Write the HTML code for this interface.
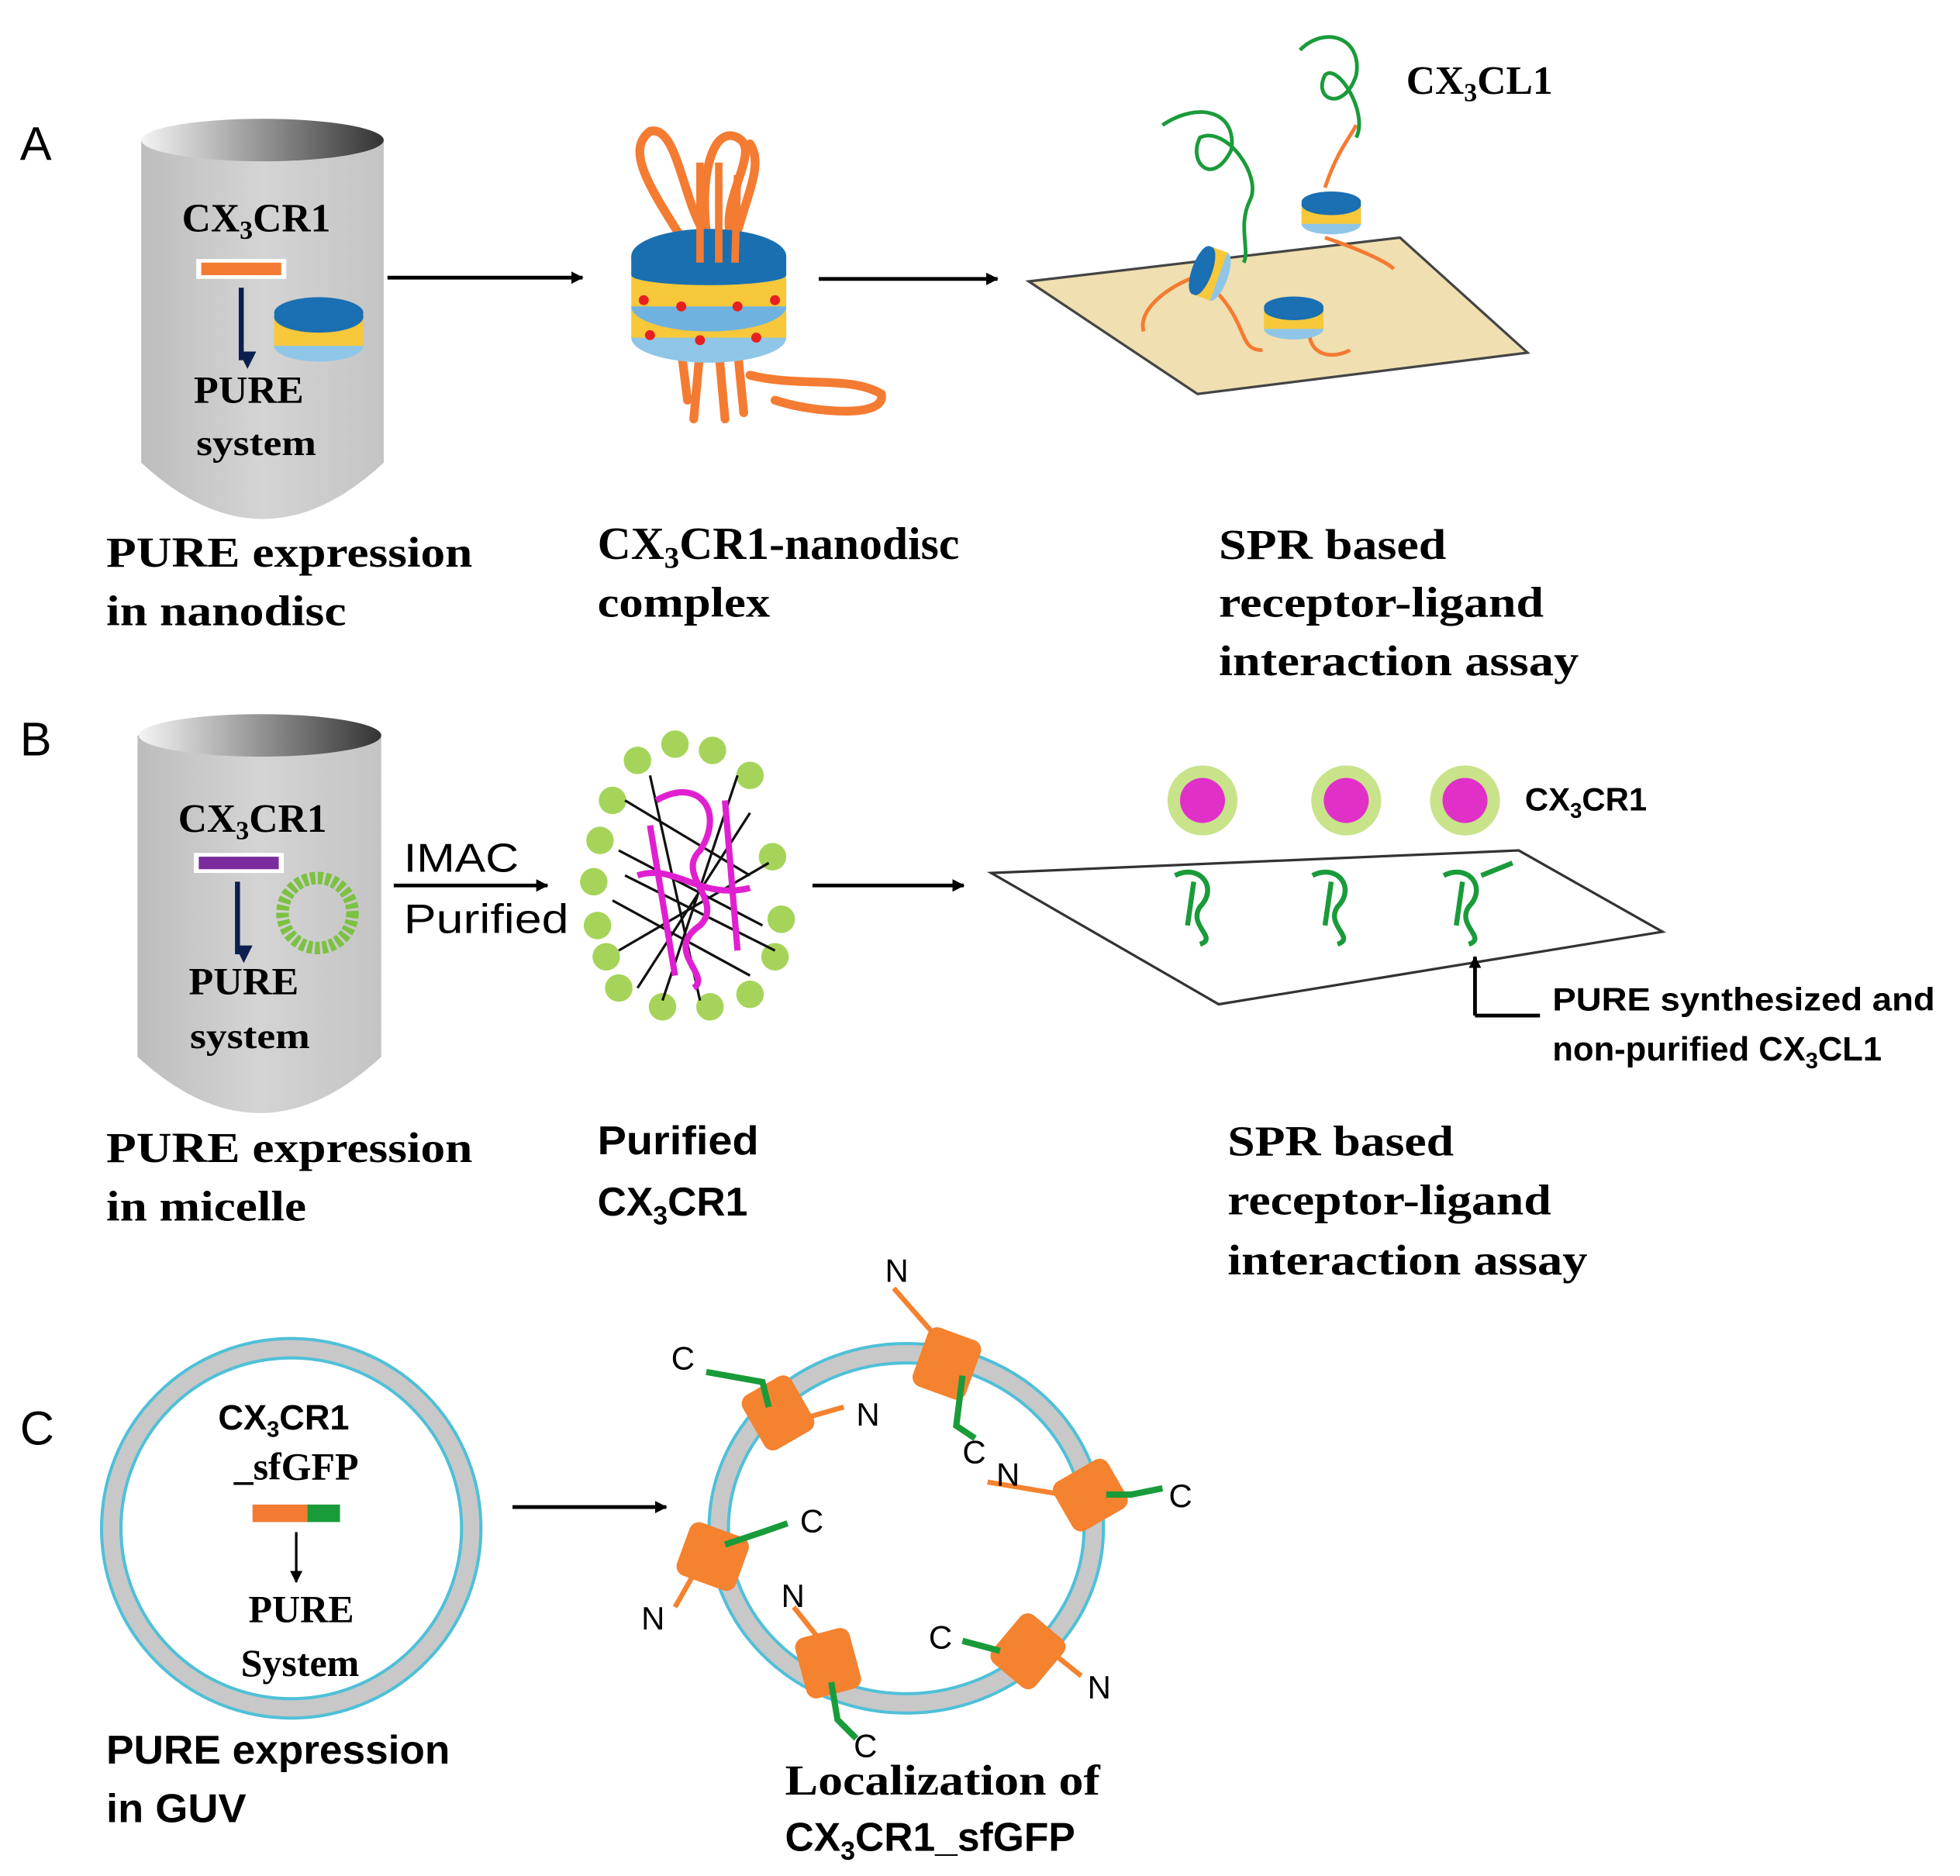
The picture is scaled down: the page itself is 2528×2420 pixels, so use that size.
<!DOCTYPE html>
<html><head><meta charset="utf-8"><style>
html,body{margin:0;padding:0;background:#fff}
svg{display:block}
.s{font-family:"Liberation Serif",serif;font-weight:bold}
.a{font-family:"Liberation Sans",sans-serif}
</style></head><body>
<svg width="2528" height="2420" viewBox="0 0 1568 1500" preserveAspectRatio="none" xmlns="http://www.w3.org/2000/svg">
<defs>
<linearGradient id="tube" x1="0" x2="1" y1="0" y2="0"><stop offset="0" stop-color="#bdbdbd"/><stop offset="0.5" stop-color="#d4d4d4"/><stop offset="1" stop-color="#c4c4c4"/></linearGradient>
<linearGradient id="top" x1="0" x2="1"><stop offset="0" stop-color="#f4f4f4"/><stop offset="1" stop-color="#333"/></linearGradient>
<marker id="ar" markerWidth="10" markerHeight="10" refX="9" refY="5" orient="auto" markerUnits="userSpaceOnUse"><path d="M0,0 L14,5 L0,10z" fill="#000" transform="scale(0.7,1)"/></marker>
<marker id="arn" markerWidth="14" markerHeight="14" refX="7" refY="12" orient="auto" markerUnits="userSpaceOnUse"><path d="M0,0 L14,0 L7,14z" fill="#0b1f4f" transform="rotate(-90 7 7)"/></marker>
<g id="disc">
<ellipse cx="0" cy="30" rx="34" ry="12" fill="#8fc6e8"/>
<rect x="-34" y="8" width="68" height="22" fill="#f6c83a"/>
<ellipse cx="0" cy="8" rx="34" ry="12" fill="#1a6fb0"/>
<ellipse cx="0" cy="5" rx="34" ry="12" fill="#1b6fb3"/>
</g>
</defs>

<!-- Panel A -->
<text x="16" y="128" class="a" font-size="38">A</text>
<path d="M113,112 L113,370 Q210,460 307,370 L307,112 Z" fill="url(#tube)"/>
<ellipse cx="210" cy="112" rx="97" ry="17" fill="url(#top)"/>
<text x="205" y="185" class="s" font-size="32" text-anchor="middle">CX<tspan font-size="21" dy="6">3</tspan><tspan dy="-6">CR1</tspan></text>
<rect x="157" y="207" width="72" height="16" fill="#fff"/><rect x="161" y="210" width="64" height="10" fill="#f47b32"/>
<line x1="193" y1="230" x2="193" y2="288" stroke="#0b1f4f" stroke-width="4" marker-end="url(#arn)"/>
<g transform="translate(255,245) scale(1.05)"><use href="#disc"/></g>
<text x="155" y="322" class="s" font-size="31" textLength="88" lengthAdjust="spacingAndGlyphs">PURE</text>
<text x="157" y="364" class="s" font-size="29" textLength="96" lengthAdjust="spacingAndGlyphs">system</text>
<line x1="310" y1="222" x2="466" y2="222" stroke="#000" stroke-width="3" marker-end="url(#ar)"/>
<!-- big nanodisc -->
<g stroke="#f47b32" stroke-width="7" fill="none" stroke-linecap="round">
<path d="M545,190 C520,150 500,120 520,105 C540,100 545,150 560,180"/>
<path d="M565,185 C560,140 570,100 590,110 C610,120 575,160 585,190"/>
<path d="M590,185 C600,150 610,130 600,115"/>
<path d="M560,280 L555,335 M575,280 L580,335 M590,280 L595,330 M545,280 L550,320"/>
<path d="M600,300 C640,310 680,300 705,315 C710,335 650,330 620,320"/>
</g>
<ellipse cx="567" cy="270" rx="62" ry="20" fill="#8fc6e8"/>
<rect x="505" y="245" width="124" height="25" fill="#f6c83a"/>
<ellipse cx="567" cy="245" rx="62" ry="20" fill="#6fb2e0"/>
<rect x="505" y="220" width="124" height="25" fill="#f6c83a"/>
<ellipse cx="567" cy="205" rx="62" ry="22" fill="#1a6fb0"/>
<rect x="505" y="205" width="124" height="15" fill="#1a6fb0"/>
<ellipse cx="567" cy="220" rx="62" ry="8" fill="#1a6fb0"/>
<g fill="#e62020"><circle cx="515" cy="240" r="4"/><circle cx="545" cy="245" r="4"/><circle cx="590" cy="245" r="4"/><circle cx="620" cy="240" r="4"/><circle cx="520" cy="268" r="4"/><circle cx="560" cy="272" r="4"/><circle cx="605" cy="270" r="4"/></g>
<g stroke="#f47b32" stroke-width="6"><line x1="560" y1="130" x2="560" y2="210"/><line x1="575" y1="130" x2="575" y2="210"/><line x1="590" y1="140" x2="588" y2="210"/></g>
<line x1="655" y1="223" x2="798" y2="223" stroke="#000" stroke-width="3" marker-end="url(#ar)"/>
<polygon points="823,225 1120,190 1222,282 958,315" fill="#f0dfb0" stroke="#444" stroke-width="2"/>
<g stroke="#f47b32" stroke-width="3" fill="none">
<path d="M960,220 C930,230 910,250 915,265 M970,230 C1000,260 990,280 1010,280 M1050,250 C1040,280 1060,290 1080,280 M1060,190 C1090,200 1110,210 1115,215 M1060,150 C1070,120 1080,110 1085,100"/>
</g>
<g transform="translate(958,215) rotate(-70) scale(0.6)"><use href="#disc"/></g>
<g transform="translate(1065,158) scale(0.7)"><use href="#disc"/></g>
<g transform="translate(1035,242) scale(0.7)"><use href="#disc"/></g>
<g stroke="#1a9b3a" stroke-width="3" fill="none">
<path d="M930,100 C960,80 990,90 985,120 C970,150 950,130 960,110 C980,100 1010,140 1000,160 C990,180 1000,200 995,210"/>
<path d="M1040,40 C1060,20 1090,30 1085,60 C1075,90 1050,80 1060,60 C1070,50 1095,90 1085,110"/>
</g>
<text x="1125" y="75" class="s" font-size="32">CX<tspan font-size="21" dy="6">3</tspan><tspan dy="-6">CL1</tspan></text>
<text x="85" y="453" class="s" font-size="34" textLength="293" lengthAdjust="spacingAndGlyphs">PURE expression</text>
<text x="85" y="500" class="s" font-size="34" textLength="192" lengthAdjust="spacingAndGlyphs">in nanodisc</text>
<text x="478" y="447" class="s" font-size="37">CX<tspan font-size="24" dy="7">3</tspan><tspan dy="-7">CR1-nanodisc</tspan></text>
<text x="478" y="493" class="s" font-size="34" textLength="138" lengthAdjust="spacingAndGlyphs">complex</text>
<text x="975" y="447" class="s" font-size="34" textLength="182" lengthAdjust="spacingAndGlyphs">SPR based</text>
<text x="975" y="493" class="s" font-size="34" textLength="260" lengthAdjust="spacingAndGlyphs">receptor-ligand</text>
<text x="975" y="540" class="s" font-size="34" textLength="288" lengthAdjust="spacingAndGlyphs">interaction assay</text>

<!-- Panel B -->
<text x="16" y="604" class="a" font-size="38">B</text>
<path d="M110,588 L110,845 Q208,935 305,845 L305,588 Z" fill="url(#tube)"/>
<ellipse cx="208" cy="588" rx="97" ry="17" fill="url(#top)"/>
<text x="202" y="665" class="s" font-size="32" text-anchor="middle">CX<tspan font-size="21" dy="6">3</tspan><tspan dy="-6">CR1</tspan></text>
<rect x="155" y="682" width="72" height="16" fill="#fff"/><rect x="159" y="685" width="64" height="10" fill="#7b2c9c"/>
<line x1="190" y1="705" x2="190" y2="763" stroke="#0b1f4f" stroke-width="4" marker-end="url(#arn)"/>
<circle cx="254" cy="730" r="28" fill="none" stroke="#7cc142" stroke-width="10" stroke-dasharray="4 2"/>
<text x="151" y="795" class="s" font-size="31" textLength="88" lengthAdjust="spacingAndGlyphs">PURE</text>
<text x="152" y="838" class="s" font-size="29" textLength="96" lengthAdjust="spacingAndGlyphs">system</text>
<text x="323" y="697" class="a" font-size="32" textLength="92" lengthAdjust="spacingAndGlyphs">IMAC</text>
<line x1="315" y1="708" x2="438" y2="708" stroke="#000" stroke-width="3" marker-end="url(#ar)"/>
<text x="323" y="746" class="a" font-size="33" textLength="132" lengthAdjust="spacingAndGlyphs">Purified</text>
<!-- micelle -->
<g fill="#a6d45a">
<circle cx="540" cy="595" r="11"/><circle cx="570" cy="600" r="11"/><circle cx="510" cy="608" r="11"/><circle cx="600" cy="620" r="11"/><circle cx="490" cy="640" r="11"/><circle cx="618" cy="685" r="11"/><circle cx="480" cy="672" r="11"/><circle cx="625" cy="735" r="11"/><circle cx="475" cy="705" r="11"/><circle cx="620" cy="765" r="11"/><circle cx="478" cy="740" r="11"/><circle cx="600" cy="795" r="11"/><circle cx="495" cy="790" r="11"/><circle cx="530" cy="805" r="11"/><circle cx="568" cy="805" r="11"/><circle cx="485" cy="765" r="11"/>
</g>
<g stroke="#111" stroke-width="2" fill="none">
<path d="M500,640 L600,700 M495,680 L610,740 M490,720 L600,780 M510,790 L600,650 M530,800 L590,620 M520,620 L560,800 M495,760 L615,690 M500,700 L620,760"/>
</g>
<g stroke="#e020d0" stroke-width="5" fill="none">
<path d="M525,640 C560,620 580,650 560,680 C540,700 580,720 560,740 C530,760 570,780 555,790 M520,660 L540,780 M580,640 L590,760 M510,700 C540,690 560,720 600,710"/>
</g>
<line x1="650" y1="708" x2="771" y2="708" stroke="#000" stroke-width="3" marker-end="url(#ar)"/>
<polygon points="793,698 1215,680 1330,745 975,803" fill="#fff" stroke="#333" stroke-width="2"/>
<g>
<circle cx="962" cy="640" r="28" fill="#c9e38a"/><circle cx="962" cy="640" r="18" fill="#e030c8"/>
<circle cx="1077" cy="640" r="28" fill="#c9e38a"/><circle cx="1077" cy="640" r="18" fill="#e030c8"/>
<circle cx="1172" cy="640" r="28" fill="#c9e38a"/><circle cx="1172" cy="640" r="18" fill="#e030c8"/>
</g>
<g stroke="#1a9b3a" stroke-width="4" fill="none">
<path d="M940,700 C960,690 975,710 960,725 C950,740 975,750 960,755 M955,705 L950,740"/>
<path d="M1050,700 C1070,690 1085,710 1070,725 C1060,740 1085,750 1070,755 M1065,705 L1060,740"/>
<path d="M1155,700 C1175,690 1190,710 1175,725 C1165,740 1190,750 1175,755 M1170,705 L1165,740 M1185,700 L1210,690"/>
</g>
<text x="1220" y="648" class="a" font-size="26" font-weight="bold">CX<tspan font-size="17" dy="6">3</tspan><tspan dy="-6">CR1</tspan></text>
<line x1="1232" y1="812" x2="1180" y2="812" stroke="#000" stroke-width="3"/>
<line x1="1180" y1="812" x2="1180" y2="765" stroke="#000" stroke-width="3" marker-end="url(#ar)"/>
<text x="1242" y="808" class="a" font-size="26" font-weight="bold" textLength="306" lengthAdjust="spacingAndGlyphs">PURE synthesized and</text>
<text x="1242" y="848" class="a" font-size="27" font-weight="bold">non-purified CX<tspan font-size="18" dy="6">3</tspan><tspan dy="-6">CL1</tspan></text>
<text x="85" y="929" class="s" font-size="34" textLength="293" lengthAdjust="spacingAndGlyphs">PURE expression</text>
<text x="85" y="976" class="s" font-size="34" textLength="160" lengthAdjust="spacingAndGlyphs">in micelle</text>
<text x="478" y="923" class="a" font-size="32" font-weight="bold" textLength="129" lengthAdjust="spacingAndGlyphs">Purified</text>
<text x="478" y="972" class="a" font-size="32" font-weight="bold">CX<tspan font-size="21" dy="7">3</tspan><tspan dy="-7">CR1</tspan></text>
<text x="982" y="924" class="s" font-size="34" textLength="181" lengthAdjust="spacingAndGlyphs">SPR based</text>
<text x="982" y="971" class="s" font-size="34" textLength="259" lengthAdjust="spacingAndGlyphs">receptor-ligand</text>
<text x="982" y="1019" class="s" font-size="34" textLength="288" lengthAdjust="spacingAndGlyphs">interaction assay</text>

<!-- Panel C -->
<text x="16" y="1155" class="a" font-size="38">C</text>
<circle cx="233" cy="1222" r="144" fill="none" stroke="#4fc0d8" stroke-width="18"/>
<circle cx="233" cy="1222" r="144" fill="none" stroke="#c8c8c8" stroke-width="13"/>
<text x="227" y="1143" class="a" font-size="28" font-weight="bold" text-anchor="middle">CX<tspan font-size="18" dy="6">3</tspan><tspan dy="-6">CR1</tspan></text>
<text x="237" y="1183" class="s" font-size="31" text-anchor="middle">_sfGFP</text>
<rect x="202" y="1203" width="46" height="14" fill="#f47b32"/><rect x="246" y="1203" width="26" height="14" fill="#1a9b3a"/>
<line x1="237" y1="1225" x2="237" y2="1265" stroke="#000" stroke-width="2" marker-end="url(#ar)"/>
<text x="241" y="1297" class="s" font-size="31" text-anchor="middle">PURE</text>
<text x="240" y="1340" class="s" font-size="31" text-anchor="middle">System</text>
<line x1="410" y1="1205" x2="533" y2="1205" stroke="#000" stroke-width="3" marker-end="url(#ar)"/>
<ellipse cx="725" cy="1222" rx="150" ry="140" fill="none" stroke="#4fc0d8" stroke-width="18"/>
<ellipse cx="725" cy="1222" rx="150" ry="140" fill="none" stroke="#c8c8c8" stroke-width="13"/>
<g fill="#f4822f">
<rect x="600" y="1105" width="45" height="50" rx="8" transform="rotate(-30 622 1130)"/>
<rect x="735" y="1065" width="45" height="50" rx="8" transform="rotate(20 757 1090)"/>
<rect x="850" y="1170" width="45" height="50" rx="8" transform="rotate(60 872 1195)"/>
<rect x="548" y="1220" width="45" height="50" rx="8" transform="rotate(-70 570 1245)"/>
<rect x="640" y="1305" width="45" height="50" rx="8" transform="rotate(-15 662 1330)"/>
<rect x="800" y="1295" width="45" height="50" rx="8" transform="rotate(40 822 1320)"/>
</g>
<g stroke="#f4822f" stroke-width="4">
<line x1="715" y1="1030" x2="750" y2="1070"/><line x1="640" y1="1135" x2="675" y2="1125"/>
<line x1="790" y1="1185" x2="850" y2="1195"/><line x1="540" y1="1285" x2="560" y2="1250"/>
<line x1="635" y1="1285" x2="655" y2="1310"/><line x1="840" y1="1320" x2="865" y2="1340"/>
</g>
<g stroke="#1a9b3a" stroke-width="5" fill="none">
<path d="M565,1097 L610,1105 L615,1125"/><path d="M770,1100 L765,1140 L780,1150"/>
<path d="M885,1195 L905,1195 L930,1190"/><path d="M580,1235 L610,1225 L630,1218"/>
<path d="M665,1345 L670,1375 L685,1390"/><path d="M770,1312 L800,1320"/>
</g>
<g class="a" font-size="26">
<text x="708" y="1025">N</text><text x="537" y="1095">C</text><text x="685" y="1140">N</text>
<text x="770" y="1170">C</text><text x="797" y="1188">N</text><text x="935" y="1205">C</text>
<text x="640" y="1225">C</text><text x="513" y="1303">N</text><text x="625" y="1285">N</text>
<text x="743" y="1318">C</text><text x="870" y="1358">N</text><text x="683" y="1405">C</text>
</g>
<text x="85" y="1410" class="a" font-size="32" font-weight="bold" textLength="275" lengthAdjust="spacingAndGlyphs">PURE expression</text>
<text x="85" y="1457" class="a" font-size="32" font-weight="bold" textLength="112" lengthAdjust="spacingAndGlyphs">in GUV</text>
<text x="628" y="1435" class="s" font-size="34" textLength="252" lengthAdjust="spacingAndGlyphs">Localization of</text>
<text x="628" y="1480" class="a" font-size="32" font-weight="bold">CX<tspan font-size="21" dy="7">3</tspan><tspan dy="-7">CR1_sfGFP</tspan></text>
</svg>
</body></html>
